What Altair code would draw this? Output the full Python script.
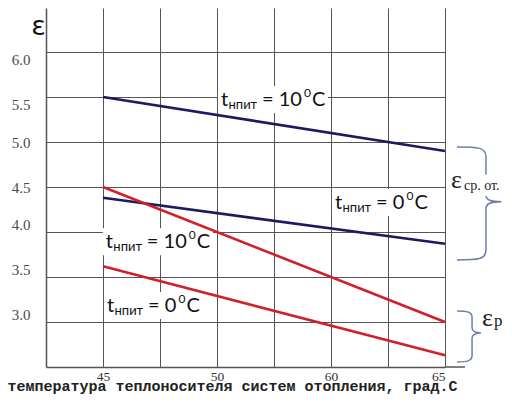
import altair as alt
import pandas as pd

# ---- data -------------------------------------------------------------
x_slots = [0, 1, 2, 3, 4, 5, 6]
x_labels = ["45", "", "50", "", "60", "", "65"]
y_ticks = [3.0, 3.5, 4.0, 4.5, 5.0, 5.5, 6.0]

line_x = [0, 6]                 # slots of 45 and 65
eps_av_10 = [5.5, 4.9]          # blue, t_нпит = 10
eps_av_0 = [4.38, 3.87]         # blue, t_нпит = 0
eps_p_10 = [4.5, 3.0]           # red,  t_нпит = 10
eps_p_0 = [3.62, 2.63]          # red,  t_нпит = 0

series_names = ["av10", "av0", "p10", "p0"]
series_vals = [eps_av_10, eps_av_0, eps_p_10, eps_p_0]
series_cols = ["#1d1b5f", "#1d1b5f", "#d0202a", "#d0202a"]

# label anchors (data units) and temperature text
lab_x = [2.07, 4.07, 0.05, 0.07]
lab_y = [5.40, 4.256, 3.82, 3.11]
lab_num = ["10", "0", "10", "0"]

SANS = "Lato"
SERIF = "Liberation Serif"
MONO = "Liberation Mono"

XS = alt.Scale(domain=[-1, 6], nice=False, zero=False)
YS = alt.Scale(domain=[2.5, 6.489], nice=False, zero=False)

label_expr = "[" + ",".join(f"'{l}'" for l in x_labels) + "][datum.value]"

X_AXIS = alt.Axis(
    values=x_slots, labelExpr=label_expr, grid=True, ticks=False,
    gridColor="#555555", gridWidth=1, domainColor="#555555", domainWidth=1.5,
    labelFont=SERIF, labelFontSize=13.5, labelColor="#333333", labelPadding=2,
    title="температура теплоносителя систем отопления, град.С",
    titleFont=MONO, titleFontWeight="bold", titleFontSize=15, titleColor="#222222",
    titleAnchor="start", titleAlign="left", titleBaseline="alphabetic",
    titleX=-39, titleY=23)
Y_AXIS = alt.Axis(
    values=y_ticks, format=".1f", grid=True, ticks=False,
    gridColor="#555555", gridWidth=1, domainColor="#555555", domainWidth=1.5,
    labelFont=SERIF, labelFontSize=15, labelColor="#4a4a4a", labelPadding=16,
    labelBaseline={"condition": [{"test": "datum.value >= 5.5", "value": "top"},
                                 {"test": "datum.value <= 4.0", "value": "bottom"}],
                   "value": "middle"},
    title="ε", titleAngle=0, titleFont="DejaVu Sans", titleFontSize=27,
    titleFontWeight="normal", titleColor="#111111",
    titleAlign="center", titleBaseline="alphabetic", titleX=-8, titleY=26)


def X(field="x"):
    return alt.X(f"{field}:Q", scale=XS, axis=X_AXIS, title=X_AXIS.title)


def Y(field="y"):
    return alt.Y(f"{field}:Q", scale=YS, axis=Y_AXIS, title=Y_AXIS.title)


rows = []
for n, v in zip(series_names, series_vals):
    for xx, yy in zip(line_x, v):
        rows.append({"x": xx, "y": yy, "s": n})
lines_df = pd.DataFrame(rows)

lines = alt.Chart(lines_df).mark_line(strokeWidth=2.6).encode(
    x=X(), y=Y(),
    color=alt.Color("s:N", scale=alt.Scale(domain=series_names, range=series_cols),
                    legend=None),
    detail="s:N",
)

# white boxes behind labels
box_df = pd.DataFrame({
    "x": [a - 0.053 for a in lab_x], "x2": [a + 1.877 for a in lab_x],
    "y": [b - 0.078 for b in lab_y], "y2": [b + 0.222 for b in lab_y],
})
boxes = alt.Chart(box_df).mark_rect(color="white").encode(
    x=X("x"), x2="x2:Q", y=Y("y"), y2="y2:Q")

layers = [boxes, lines]

lab_df = pd.DataFrame({"x": lab_x, "y": lab_y, "num": lab_num})


def txt(df, text_field, **props):
    base = dict(align="left", baseline="alphabetic", color="#111111", font=SANS)
    base.update(props)
    return alt.Chart(df).mark_text(**base).encode(
        x=X(), y=Y(), text=f"{text_field}:N")


for num in ["10", "0"]:
    sub = lab_df[lab_df["num"] == num].copy()
    sub["t"] = "t"
    sub["s"] = "нпит"
    sub["eq"] = "= " + sub["num"]
    sub["sup"] = "0"
    sub["c"] = "C"
    shift = 0 if num == "10" else -11.6
    layers += [
        txt(sub, "t", fontSize=20),
        txt(sub, "s", fontSize=13, dx=7.5, dy=3),
        txt(sub, "eq", fontSize=20, dx=41),
        txt(sub, "sup", fontSize=12, dx=83 + shift, dy=-9),
        txt(sub, "c", fontSize=20, dx=91 + shift),
    ]

# braces on the right
brace_up = ("M -0.48 -1 C -0.1 -1 0.035 -0.99 0.035 -0.83 L 0.035 -0.15 "
            "C 0.035 -0.06 0.12 -0.03 0.31 -0.03 C 0.12 -0.03 0.035 0 0.035 0.09 "
            "L 0.035 0.83 C 0.035 0.99 -0.1 1 -0.48 1")
brace_lo = ("M -0.47 -1 C -0.1 -1 0.12 -0.97 0.12 -0.75 L 0.12 -0.35 "
            "C 0.12 -0.2 0.25 -0.14 0.47 -0.14 C 0.25 -0.14 0.12 -0.08 0.12 0.07 "
            "L 0.12 0.75 C 0.12 0.97 -0.1 1 -0.47 1")
BRACE_COL = "#6e80a8"
b1 = alt.Chart(pd.DataFrame({"x": [6.684], "y": [4.317]})).mark_point(
    shape=brace_up, size=12769, filled=False, stroke=BRACE_COL, strokeWidth=1.5,
    opacity=1).encode(x=X(), y=Y())
b2 = alt.Chart(pd.DataFrame({"x": [6.421], "y": [2.839]})).mark_point(
    shape=brace_lo, size=2601, filled=False, stroke=BRACE_COL, strokeWidth=1.5,
    opacity=1).encode(x=X(), y=Y())

tbox = alt.Chart(pd.DataFrame({"x": [6.07], "x2": [7.16], "y": [4.40], "y2": [4.64]})
                 ).mark_rect(color="white").encode(x=X("x"), x2="x2:Q", y=Y("y"), y2="y2:Q")

eps_df = pd.DataFrame({"x": [6.105, 6.649], "y": [4.489, 2.956],
                       "e": ["ε", "ε"], "sub": ["ср. от.", "р"]})
e_main = txt(eps_df, "e", font=SERIF, fontSize=26, color="#222222")
e_sub1 = txt(eps_df.iloc[[0]], "sub", font=SERIF, fontSize=14, color="#222222", dx=13, dy=2)
e_sub2 = txt(eps_df.iloc[[1]], "sub", font=SERIF, fontSize=17, color="#222222", dx=12, dy=0)

# bottom axis extension beyond the last gridline
ext = alt.Chart(pd.DataFrame({"x": [6], "x2": [6.35], "y": [2.5]})).mark_rule(
    color="#555555", strokeWidth=1.5).encode(x=X("x"), x2="x2:Q", y=Y("y"))

layers += [b1, b2, tbox, e_main, e_sub1, e_sub2, ext]

chart = alt.layer(*layers).properties(
    width=399, height=359,
    autosize=alt.AutoSizeParams(type="none"),
    padding={"left": 38, "top": 0, "right": 59, "bottom": 27},
).configure_view(stroke=None)

chart.save("out.html", embed_options={"renderer": "svg", "actions": False})
